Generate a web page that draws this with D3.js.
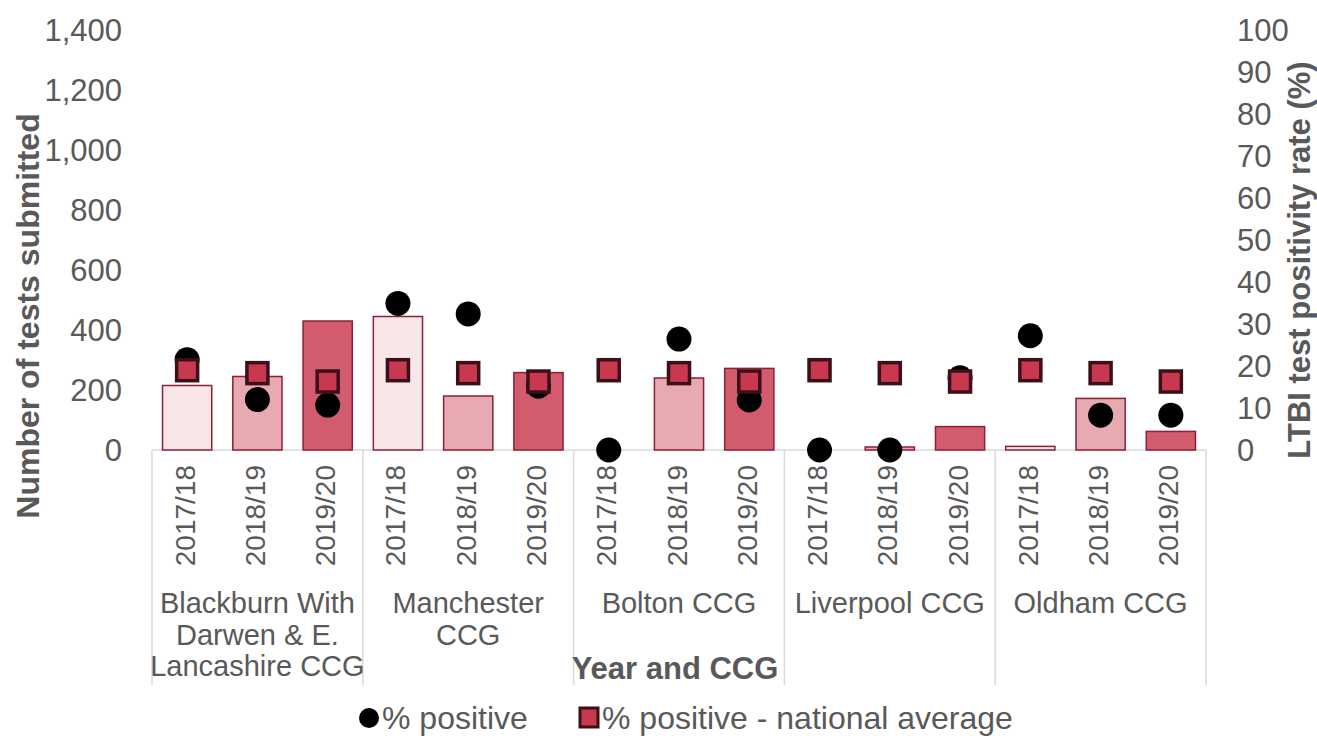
<!DOCTYPE html>
<html>
<head>
<meta charset="utf-8">
<script src="https://cdn.jsdelivr.net/npm/d3@7"></script>
<style>
  body { margin: 0; background: #fff; }
  svg text { font-family: "Liberation Sans", Arial, sans-serif; fill: #595959; }
</style>
</head>
<body>
<div id="chart"></div>
<script>
const groups = ['Blackburn With|Darwen & E.|Lancashire CCG', 'Manchester|CCG', 'Bolton CCG', 'Liverpool CCG', 'Oldham CCG'];
const years = ['2017/18', '2018/19', '2019/20'];
const testsSubmitted = [215, 245, 430, 445, 180, 258, 0, 240, 272, 0, 10, 78, 12, 172, 62];
const pctPositive = [21.5, 12.0, 10.7, 34.9, 32.4, 15.2, 0, 26.4, 11.9, 0, 0, 17.2, 27.2, 8.3, 8.3];
const pctNational = [19.0, 18.3, 16.3, 19.0, 18.3, 16.3, 19.0, 18.3, 16.3, 19.0, 18.3, 16.3, 19.0, 18.3, 16.3];
const leftTicks = [0, 200, 400, 600, 800, 1000, 1200, 1400];
const rightTicks = [0, 10, 20, 30, 40, 50, 60, 70, 80, 90, 100];

const W = 1317, H = 736;
const plot = { left: 152, right: 1206, top: 30, bottom: 450 };
const yearColors = { '2017/18': '#f8e6e9', '2018/19': '#e7aab2', '2019/20': '#d25c6e' };

// one entry per bar
const rows = [];
groups.forEach((g, gi) => years.forEach((y, yi) => {
  const i = gi * 3 + yi;
  rows.push({ id: i, group: g, year: y, tests: testsSubmitted[i], pos: pctPositive[i], nat: pctNational[i] });
}));

const svg = d3.select('#chart').append('svg')
  .attr('width', W).attr('height', H);

const x = d3.scaleBand()
  .domain(rows.map(d => d.id))
  .range([plot.left, plot.right])
  .paddingInner(0.3).paddingOuter(0.15);

const yLeft = d3.scaleLinear().domain([0, 1400]).range([plot.bottom, plot.top]);
const yRight = d3.scaleLinear().domain([0, 100]).range([plot.bottom, plot.top]);

// left axis labels
svg.append('g')
  .selectAll('text').data(leftTicks).enter().append('text')
  .attr('x', 122).attr('y', d => yLeft(d))
  .attr('text-anchor', 'end').attr('dominant-baseline', 'central')
  .attr('font-size', '31px')
  .text(d => d3.format(',')(d));

// right axis labels
svg.append('g')
  .selectAll('text').data(rightTicks).enter().append('text')
  .attr('x', 1237).attr('y', d => yRight(d))
  .attr('text-anchor', 'start').attr('dominant-baseline', 'central')
  .attr('font-size', '31px')
  .text(d => d);

// category box lines
const groupW = (plot.right - plot.left) / groups.length;
svg.append('line')
  .attr('x1', plot.left).attr('x2', plot.right)
  .attr('y1', plot.bottom).attr('y2', plot.bottom)
  .attr('stroke', '#d9d9d9').attr('stroke-width', 1.5);
svg.append('g').selectAll('line').data(d3.range(groups.length + 1)).enter().append('line')
  .attr('x1', d => plot.left + d * groupW).attr('x2', d => plot.left + d * groupW)
  .attr('y1', plot.bottom).attr('y2', 685)
  .attr('stroke', '#d9d9d9').attr('stroke-width', 1.5);

// bars
svg.append('g').selectAll('rect').data(rows.filter(d => d.tests > 0)).enter().append('rect')
  .attr('x', d => x(d.id))
  .attr('y', d => yLeft(d.tests))
  .attr('width', x.bandwidth())
  .attr('height', d => yLeft(0) - yLeft(d.tests))
  .attr('fill', d => yearColors[d.year])
  .attr('stroke', '#8e1f34').attr('stroke-width', 1.5);

// % positive
svg.append('g').selectAll('circle').data(rows).enter().append('circle')
  .attr('cx', d => x(d.id) + x.bandwidth() / 2)
  .attr('cy', d => yRight(d.pos))
  .attr('r', 12.5)
  .attr('fill', '#000');

// national average
const sq = 21;
svg.append('g').selectAll('rect').data(rows).enter().append('rect')
  .attr('x', d => x(d.id) + x.bandwidth() / 2 - sq / 2)
  .attr('y', d => yRight(d.nat) - sq / 2)
  .attr('width', sq).attr('height', sq)
  .attr('fill', '#c8394f')
  .attr('stroke', '#3b1018').attr('stroke-width', 3.5);

// year labels
svg.append('g').selectAll('text').data(rows).enter().append('text')
  .attr('transform', d => `translate(${x(d.id) + x.bandwidth() / 2 - 2}, 465) rotate(-90)`)
  .attr('text-anchor', 'end').attr('dominant-baseline', 'central')
  .attr('font-size', '28px')
  .text(d => d.year);

// group labels
svg.append('g').selectAll('text').data(groups).enter().append('text')
  .attr('x', (d, i) => plot.left + (i + 0.5) * groupW)
  .attr('y', 613)
  .attr('text-anchor', 'middle')
  .attr('font-size', '29px')
  .each(function (d) {
    d.split('|').forEach((line, li) => {
      d3.select(this).append('tspan')
        .attr('x', d3.select(this).attr('x'))
        .attr('dy', li === 0 ? 0 : 31.5)
        .text(line);
    });
  });

// axis titles
svg.append('text')
  .attr('transform', 'translate(28, 316) rotate(-90)')
  .attr('text-anchor', 'middle').attr('dominant-baseline', 'central')
  .attr('font-size', '32px').attr('font-weight', 'bold')
  .text('Number of tests submitted');

svg.append('text')
  .attr('transform', 'translate(1299, 260) rotate(-90)')
  .attr('text-anchor', 'middle').attr('dominant-baseline', 'central')
  .attr('font-size', '31px').attr('font-weight', 'bold')
  .text('LTBI test positivity rate (%)');

svg.append('text')
  .attr('x', 675).attr('y', 679)
  .attr('text-anchor', 'middle')
  .attr('font-size', '31px').attr('font-weight', 'bold')
  .text('Year and CCG');

// legend
const legend = svg.append('g');
legend.append('circle').attr('cx', 369).attr('cy', 718).attr('r', 10).attr('fill', '#000');
legend.append('text').attr('x', 382).attr('y', 718)
  .attr('dominant-baseline', 'central').attr('font-size', '32px').text('% positive');
legend.append('rect').attr('x', 580).attr('y', 708).attr('width', 18).attr('height', 19)
  .attr('fill', '#c8394f').attr('stroke', '#3b1018').attr('stroke-width', 3);
legend.append('text').attr('x', 602).attr('y', 718)
  .attr('dominant-baseline', 'central').attr('font-size', '32px').text('% positive - national average');
</script>
</body>
</html>
